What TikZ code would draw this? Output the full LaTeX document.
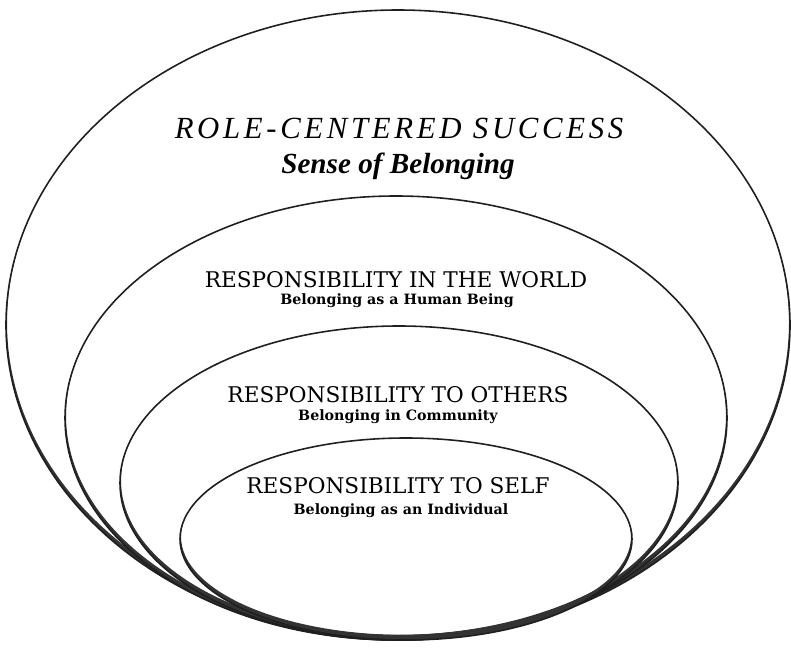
\documentclass[tikz,border=0pt]{standalone}
\usepackage{fontspec}
\setmainfont{DejaVu Serif}
\newfontfamily\headfont{Liberation Serif}
\newfontfamily\spacedfont[LetterSpace=12]{Liberation Serif}
\usepackage{tikz}
\usetikzlibrary{positioning}
\tikzstyle{shellline} = [line width=0.9pt, draw=black!88]
\tikzstyle{shellfill} = [fill=black!80, even odd rule]
\tikzstyle{title} = [inner sep=0pt, anchor=base, font=\spacedfont\itshape\fontsize{17.5}{20}\selectfont]
\tikzstyle{subtitle} = [inner sep=0pt, anchor=base, font=\headfont\bfseries\itshape\fontsize{16.6}{19}\selectfont]
\tikzstyle{heading} = [inner sep=0pt, anchor=base, font=\fontsize{12.3}{14}\selectfont]
\tikzstyle{caption} = [inner sep=0pt, anchor=base, font=\bfseries\fontsize{8.1}{10}\selectfont]

% one shell: outline plus a crescent that gets heavier towards the bottom
\newcommand{\shell}[4]{%
  \path[shellfill] (#1,#2) ellipse ({#3} and {#4}) (#1,#2-2.5) ellipse ({#3-1} and {#4-2.5});
  \draw[shellline] (#1,#2) ellipse ({#3} and {#4});
}

\begin{document}
\begin{tikzpicture}[x=0.02cm, y=-0.02cm]
    \useasboundingbox (0,0) rectangle (791,648);

    \shell{398}{325}{392}{315}
    \shell{396}{418}{331}{222}
    \shell{399}{483}{279}{157}
    \shell{406}{539}{226}{101}

    \node (role) [title] at (399,139) {ROLE-CENTERED SUCCESS};
    \node (sense) [subtitle] at (398,174) {Sense of Belonging};
    \node (world) [heading] at (396,288) {RESPONSIBILITY IN THE WORLD};
    \node (human) [caption] at (397,305) {Belonging as a Human Being};
    \node (others) [heading] at (398,402) {RESPONSIBILITY TO OTHERS};
    \node (community) [caption] at (398,420) {Belonging in Community};
    \node (self) [heading] at (398,493) {RESPONSIBILITY TO SELF};
    \node (individual) [caption] at (401,514) {Belonging as an Individual};
\end{tikzpicture}
\end{document}
